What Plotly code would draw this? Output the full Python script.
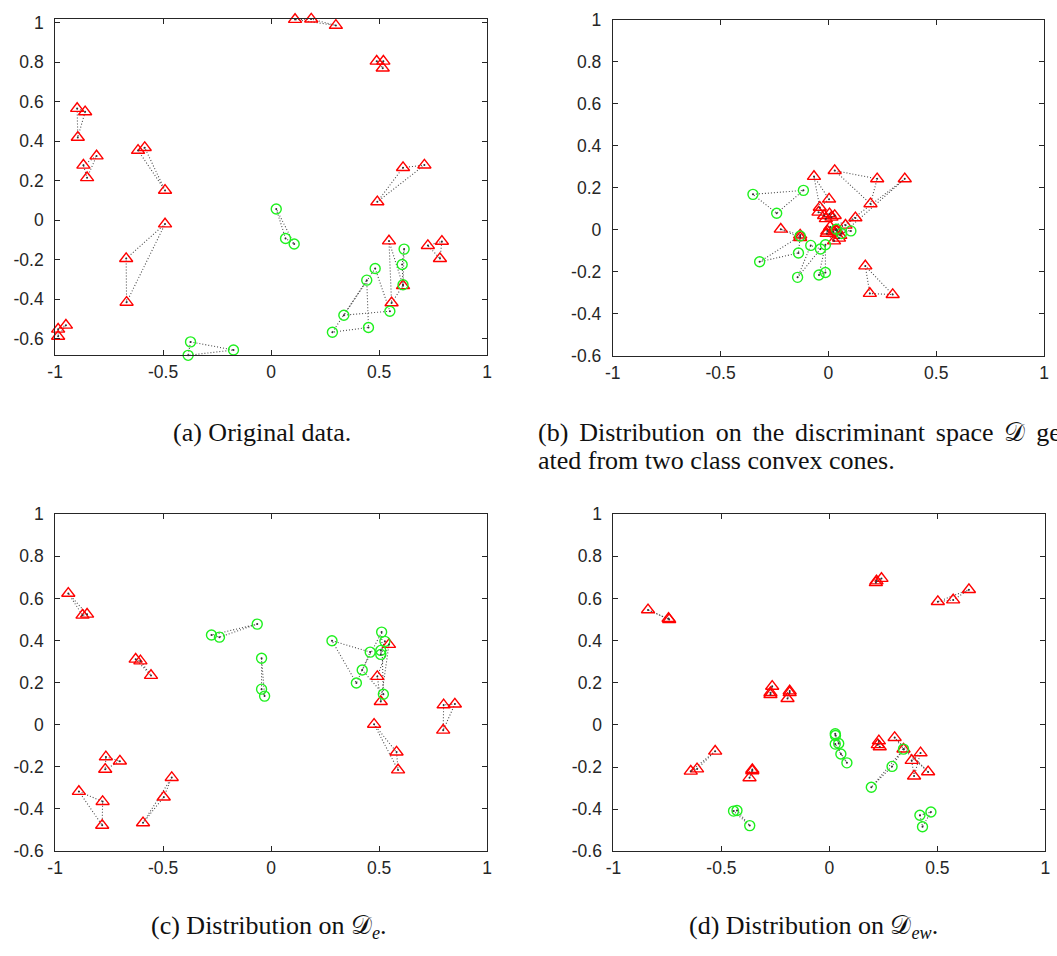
import plotly.graph_objects as go

# ---------------- data (groups of three consecutive points) ----------------
A_RED_X = [0.111, 0.186, 0.300, 0.489, 0.520, 0.517, -0.898, -0.861, -0.895, -0.869, -0.808, -0.852,
           -0.616, -0.585, -0.491, -0.491, -0.671, -0.669, 0.611, 0.710, 0.492, 0.726, 0.791, 0.782,
           0.546, 0.611, 0.558, -0.986, -0.950, -0.986]
A_RED_Y = [1.015, 1.017, 0.985, 0.804, 0.804, 0.769, 0.565, 0.548, 0.419, 0.278, 0.325, 0.215,
           0.353, 0.367, 0.151, -0.019, -0.194, -0.415, 0.266, 0.279, 0.093, -0.128, -0.107, -0.194,
           -0.105, -0.331, -0.418, -0.551, -0.531, -0.587]
A_GREEN_X = [0.024, 0.067, 0.107, -0.373, -0.174, -0.384, 0.616, 0.607, 0.611, 0.482, 0.550, 0.337,
             0.443, 0.451, 0.284]
A_GREEN_Y = [0.057, -0.092, -0.120, -0.615, -0.656, -0.683, -0.146, -0.224, -0.326, -0.244, -0.460, -0.480,
             -0.303, -0.542, -0.566]

B_RED_X = [0.029, 0.226, 0.195, 0.354, 0.040, 0.055, -0.067, 0.003, -0.040, -0.221, -0.131, -0.131,
           0.171, 0.192, 0.298, -0.046, -0.020, 0.005, 0.029, 0.014, -0.012, 0.079, 0.125, 0.008,
           -0.008, 0.023, 0.026, 0.049, -0.005, 0.034]
B_RED_Y = [0.282, 0.243, 0.124, 0.243, -0.004, -0.027, 0.254, 0.146, 0.107, 0.003, -0.025, -0.037,
           -0.172, -0.303, -0.308, 0.084, 0.068, 0.076, 0.068, 0.060, 0.053, 0.022, 0.057, 0.014,
           -0.017, -0.009, -0.053, -0.040, -0.006, -0.002]
B_GREEN_X = [-0.350, -0.116, -0.240, -0.319, -0.131, -0.139, -0.143, -0.082, -0.037, -0.044, -0.014, -0.014,
             0.037, 0.104, 0.060]
B_GREEN_Y = [0.169, 0.188, 0.079, -0.152, -0.029, -0.110, -0.226, -0.074, -0.091, -0.215, -0.203, -0.071,
             0.003, -0.005, -0.017]

C_RED_X = [-0.939, -0.873, -0.852, -0.627, -0.605, -0.556, -0.765, -0.700, -0.768, -0.890, -0.780, -0.782,
           -0.593, -0.497, -0.460, 0.477, 0.581, 0.588, 0.797, 0.799, 0.851, 0.546, 0.492, 0.508]
C_RED_Y = [0.624, 0.520, 0.525, 0.311, 0.303, 0.234, -0.153, -0.173, -0.212, -0.317, -0.365, -0.478,
           -0.466, -0.344, -0.251, 0.002, -0.130, -0.215, -0.026, 0.094, 0.098, 0.381, 0.229, 0.110]
C_GREEN_X = [-0.276, -0.239, -0.064, -0.044, -0.044, -0.030, 0.282, 0.459, 0.395, 0.512, 0.422, 0.520,
             0.527, 0.508, 0.508]
C_GREEN_Y = [0.426, 0.416, 0.478, 0.316, 0.169, 0.136, 0.399, 0.345, 0.198, 0.440, 0.260, 0.145,
             0.396, 0.353, 0.334]

D_RED_X = [-0.840, -0.745, -0.742, 0.218, 0.241, 0.215, 0.502, 0.573, 0.646, -0.265, -0.273, -0.273,
           -0.184, -0.184, -0.194, -0.529, -0.613, -0.642, -0.357, -0.357, -0.370, 0.229, 0.224, 0.233,
           0.302, 0.343, 0.457, 0.422, 0.381, 0.392]
D_RED_Y = [0.546, 0.505, 0.500, 0.683, 0.695, 0.675, 0.585, 0.593, 0.642, 0.183, 0.153, 0.144,
           0.161, 0.153, 0.125, -0.125, -0.209, -0.220, -0.212, -0.218, -0.251, -0.076, -0.094, -0.104,
           -0.060, -0.115, -0.223, -0.133, -0.169, -0.243]
D_GREEN_X = [-0.444, -0.428, -0.369, 0.419, 0.470, 0.431, 0.343, 0.290, 0.194, 0.027, 0.028, 0.043,
             0.027, 0.053, 0.081]
D_GREEN_Y = [-0.409, -0.406, -0.478, -0.429, -0.413, -0.483, -0.115, -0.197, -0.296, -0.042, -0.050, -0.088,
             -0.091, -0.138, -0.180]

X_TICKS = [-1, -0.5, 0, 0.5, 1]
X_TICK_LABELS = ["-1", "-0.5", "0", "0.5", "1"]
Y_TICKS = [1, 0.8, 0.6, 0.4, 0.2, 0, -0.2, -0.4, -0.6]
Y_TICK_LABELS = ["1", "0.8", "0.6", "0.4", "0.2", "0", "-0.2", "-0.4", "-0.6"]

Y_RANGE_A = [-0.683, 1.017]
Y_RANGE_OTHER = [-0.6, 1.0]
X_RANGE = [-1.0, 1.0]

SP = " \u2006"  # justified (slightly widened) word gap
CAPTIONS = {
    "a": "(a) Original data.",
    "b1": SP.join(["(b)", "Distribution", "on", "the", "discriminant", "space", "\U0001D49F", "gen-"]),
    "b2": "ated from two class convex cones.",
    "c": "(c) Distribution on \U0001D49F<sub><i>e</i></sub>.",
    "d": "(d) Distribution on \U0001D49F<sub><i>ew</i></sub>.",
}

W, H = 1057, 956
RED = "#ff0000"
GREEN = "#1ef01e"
LINE = "#4a4a4a"
TICK_FONT = dict(family="Liberation Sans, Arial, sans-serif", size=17.5, color="#262626")
CAP_FONT = dict(family="Liberation Serif, Times New Roman, serif", size=26, color="#111111")


def group_lines(xs, ys):
    lx, ly = [], []
    for i in range(0, len(xs) - 2, 3):
        idx = [i, i + 1, i + 2, i]
        lx += [xs[k] for k in idx] + [None]
        ly += [ys[k] for k in idx] + [None]
    return lx, ly


panels = [
    ("x", "y", A_RED_X, A_RED_Y, A_GREEN_X, A_GREEN_Y),
    ("x2", "y2", B_RED_X, B_RED_Y, B_GREEN_X, B_GREEN_Y),
    ("x3", "y3", C_RED_X, C_RED_Y, C_GREEN_X, C_GREEN_Y),
    ("x4", "y4", D_RED_X, D_RED_Y, D_GREEN_X, D_GREEN_Y),
]

fig = go.Figure()
for xa, ya, rx, ry, gx, gy in panels:
    for xs, ys in ((rx, ry), (gx, gy)):
        lx, ly = group_lines(xs, ys)
        fig.add_trace(go.Scatter(x=lx, y=ly, xaxis=xa, yaxis=ya, mode="lines",
                                 line=dict(color=LINE, width=1.1, dash="1px,2px"),
                                 hoverinfo="skip", showlegend=False, cliponaxis=False))
    fig.add_trace(go.Scatter(x=rx, y=ry, xaxis=xa, yaxis=ya, mode="markers",
                             marker=dict(symbol="triangle-up-open", size=11.5, color=RED,
                                         line=dict(width=1.4, color=RED)),
                             showlegend=False, cliponaxis=False))
    fig.add_trace(go.Scatter(x=gx, y=gy, xaxis=xa, yaxis=ya, mode="markers",
                             marker=dict(symbol="circle-open", size=10, color=GREEN,
                                         line=dict(width=1.4, color=GREEN)),
                             showlegend=False, cliponaxis=False))
    fig.add_trace(go.Scatter(x=rx + gx, y=ry + gy, xaxis=xa, yaxis=ya, mode="markers",
                             marker=dict(symbol="circle", size=2, color="#333333"),
                             hoverinfo="skip", showlegend=False, cliponaxis=False))


def px_dom(a, b, total):
    return [a / total, b / total]


def py_dom(top, bottom):
    return [1 - bottom / H, 1 - top / H]


def xaxis(dom, anchor):
    return dict(domain=dom, anchor=anchor, range=X_RANGE, tickvals=X_TICKS, ticktext=X_TICK_LABELS,
                ticks="inside", ticklen=5, tickwidth=1, tickcolor="#262626", showline=True,
                linewidth=1, linecolor="#262626", mirror="ticks", showgrid=False, zeroline=False,
                tickfont=TICK_FONT, fixedrange=True, ticklabelstandoff=1)


def yaxis(dom, anchor, rng):
    return dict(domain=dom, anchor=anchor, range=rng, tickvals=Y_TICKS, ticktext=Y_TICK_LABELS,
                ticks="inside", ticklen=5, tickwidth=1, tickcolor="#262626", showline=True,
                linewidth=1, linecolor="#262626", mirror="ticks", showgrid=False, zeroline=False,
                tickfont=TICK_FONT, fixedrange=True, ticklabelstandoff=7)


fig.update_layout(
    width=W, height=H, margin=dict(l=0, r=0, t=0, b=0),
    paper_bgcolor="white", plot_bgcolor="white",
    xaxis=xaxis(px_dom(47.7, 485.0, W), "y"),
    yaxis=yaxis(py_dom(9.3, 352.7), "x", Y_RANGE_A),
    xaxis2=xaxis(px_dom(612.3, 1049.0, W), "y2"),
    yaxis2=yaxis(py_dom(10.0, 353.3), "x2", Y_RANGE_OTHER),
    xaxis3=xaxis(px_dom(47.7, 485.0, W), "y3"),
    yaxis3=yaxis(py_dom(515.0, 859.0), "x3", Y_RANGE_OTHER),
    xaxis4=xaxis(px_dom(613.0, 1050.3, W), "y4"),
    yaxis4=yaxis(py_dom(515.0, 859.3), "x4", Y_RANGE_OTHER),
)


def cap(text, x, y, xanchor="center"):
    fig.add_annotation(text=text, xref="paper", yref="paper", x=x / W, y=1 - y / H,
                       xanchor=xanchor, yanchor="middle", showarrow=False, font=CAP_FONT)


cap(CAPTIONS["a"], 257, 432)
cap(CAPTIONS["b1"], 535, 432, "left")
cap(CAPTIONS["b2"], 535, 460, "left")
cap(CAPTIONS["c"], 264, 937)
cap(CAPTIONS["d"], 816, 937)

fig.write_html("out.html")
